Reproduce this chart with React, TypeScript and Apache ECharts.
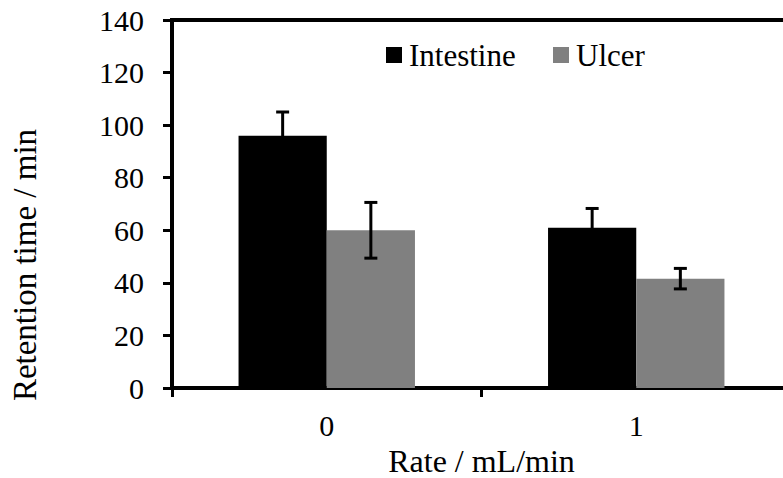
import React, { useEffect, useRef } from "react";
import * as echarts from "echarts";

const categories = ["0", "1"];
const seriesNames = ["Intestine", "Ulcer"];
const seriesColors = ["#000000", "#808080"];
const intestine = [96, 61];
const ulcer = [60, 41.6];
const intestineErr = [9, 7.3];
const ulcerErr = [10.6, 3.9];
const yTicks = [0, 20, 40, 60, 80, 100, 120, 140];

const FONT = "Liberation Serif";
const CAT_GAP = 0.43;

export default function App() {
  const ref = useRef<HTMLDivElement>(null);
  useEffect(() => {
    if (!ref.current) return;
    const chart = echarts.init(ref.current, undefined, { renderer: "svg" });
    const errData = (vals: number[], errs: number[], side: number) =>
      vals.map((v, i) => [i, v, errs[i], side]);
    const renderErr = (params: any, api: any) => {
      const idx = api.value(0);
      const val = api.value(1);
      const err = api.value(2);
      const side = api.value(3);
      const band = api.size([1, 0])[0];
      const off = (band * (1 - CAT_GAP)) / 4;
      const c = api.coord([idx, val]);
      const x = c[0] + side * off;
      const top = api.coord([idx, val + err])[1];
      const bot = api.coord([idx, val - err])[1];
      const half = 6.5;
      const style = { stroke: "#000", lineWidth: 3 };
      return {
        type: "group",
        children: [
          { type: "line", shape: { x1: x, y1: top, x2: x, y2: bot }, style },
          { type: "line", shape: { x1: x - half, y1: top, x2: x + half, y2: top }, style },
          { type: "line", shape: { x1: x - half, y1: bot, x2: x + half, y2: bot }, style },
        ],
      };
    };
    const legendX = [386, 553];
    const legendGraphics: any[] = [];
    seriesNames.forEach((name, i) => {
      legendGraphics.push({
        type: "rect",
        x: legendX[i],
        y: 47,
        shape: { x: 0, y: 0, width: 16, height: 16 },
        style: { fill: seriesColors[i] },
      });
      legendGraphics.push({
        type: "text",
        x: legendX[i] + 23,
        y: 55,
        style: {
          text: name,
          font: `31px ${FONT}`,
          fill: "#000",
          textAlign: "left",
          textVerticalAlign: "middle",
        },
      });
    });
    chart.setOption({
      animation: false,
      textStyle: { fontFamily: FONT },
      grid: {
        left: 172,
        right: -8,
        top: 20,
        bottom: 90,
        outerBoundsMode: "none",
        containLabel: false,
        show: true,
        borderColor: "#000",
        borderWidth: 4,
        backgroundColor: "transparent",
      },
      legend: { show: false, data: seriesNames },
      xAxis: {
        type: "category",
        data: categories,
        name: "Rate / mL/min",
        nameLocation: "middle",
        nameGap: 61,
        nameTextStyle: { fontFamily: FONT, fontSize: 32, color: "#000", lineHeight: 22 },
        axisLine: { show: true, lineStyle: { color: "#000", width: 4 } },
        axisTick: { show: true, length: 9, lineStyle: { color: "#000", width: 3 } },
        axisLabel: { fontFamily: FONT, fontSize: 30, color: "#000", margin: 22 },
        splitLine: { show: false },
      },
      yAxis: {
        type: "value",
        min: 0,
        max: 140,
        interval: 20,
        axisLine: { show: true, lineStyle: { color: "#000", width: 4 } },
        axisTick: { show: true, length: 9, lineStyle: { color: "#000", width: 3 } },
        axisLabel: {
          fontFamily: FONT,
          fontSize: 30,
          color: "#000",
          margin: 28,
          formatter: (v: number) => (yTicks.includes(v) ? String(v) : ""),
        },
        splitLine: { show: false },
      },
      graphic: [
        {
          type: "text",
          x: 25,
          y: 265,
          rotation: Math.PI / 2,
          style: {
            text: "Retention time / min",
            font: `33px ${FONT}`,
            fill: "#000",
            textAlign: "center",
            textVerticalAlign: "middle",
          },
        },
        ...legendGraphics,
      ],
      series: [
        {
          name: seriesNames[0],
          type: "bar",
          data: intestine,
          barGap: "0%",
          barCategoryGap: "43%",
          itemStyle: { color: seriesColors[0] },
        },
        {
          name: seriesNames[1],
          type: "bar",
          data: ulcer,
          barGap: "0%",
          barCategoryGap: "43%",
          itemStyle: { color: seriesColors[1] },
        },
        {
          name: "errIntestine",
          type: "custom",
          renderItem: renderErr,
          data: errData(intestine, intestineErr, -1),
          encode: { x: 0, y: 1 },
          z: 10,
        },
        {
          name: "errUlcer",
          type: "custom",
          renderItem: renderErr,
          data: errData(ulcer, ulcerErr, 1),
          encode: { x: 0, y: 1 },
          z: 10,
        },
      ],
    });
    return () => chart.dispose();
  }, []);
  return (
    <div
      ref={ref}
      style={{ position: "fixed", left: 0, top: 0, width: 783, height: 478, background: "#fff" }}
    />
  );
}
